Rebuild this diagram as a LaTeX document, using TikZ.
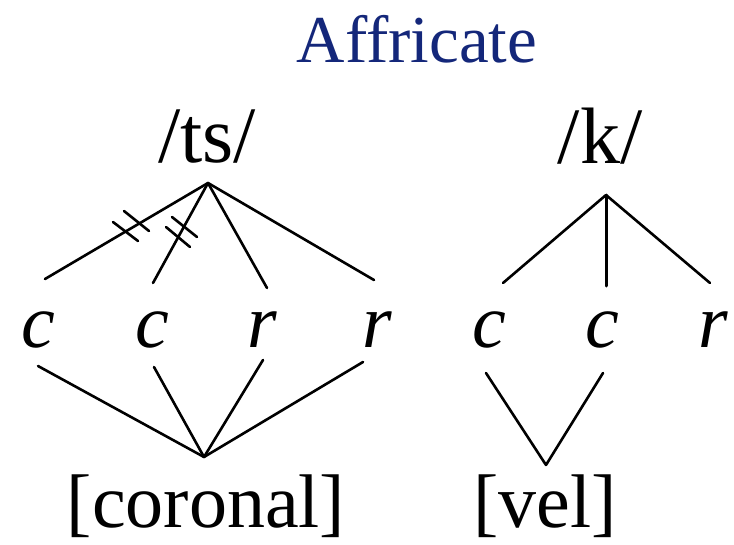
\documentclass[tikz,border=0pt]{standalone}
\usepackage{fontspec}
\setmainfont{Liberation Serif}
\definecolor{titleblue}{HTML}{14277A}
\begin{document}
\begin{tikzpicture}[x=1pt,y=-1pt,
  lbl/.style={inner sep=0pt,anchor=base,font=\fontsize{80}{80}\selectfont},
  seg/.style={inner sep=0pt,anchor=base,font=\fontsize{76}{76}\selectfont\itshape},
  feat/.style={inner sep=0pt,anchor=base,font=\fontsize{76}{76}\selectfont},
  ttl/.style={inner sep=0pt,anchor=base,text=titleblue,font=\fontsize{67}{67}\selectfont},
  ln/.style={line width=2.6pt,line cap=round}]
\useasboundingbox (0,0) rectangle (734,544);
\fill[white] (0,0) rectangle (734,544);
% texts
\node[ttl] (title) at (417,62) {Affricate};
\node[lbl] (ts) at (207,162) {/ts/};
\node[lbl] (k) at (600,163) {/k/};
\node[seg] (c1) at (38,347) {c};
\node[seg] (c2) at (152,347) {c};
\node[seg] (r1) at (262,347) {r};
\node[seg] (r2) at (377,347) {r};
\node[seg] (c3) at (489,347) {c};
\node[seg] (c4) at (602,347) {c};
\node[seg] (r3) at (713,347) {r};
\node[feat] (cor) at (206,527) {[coronal]};
\node[feat] (vel) at (545,527) {[vel]};
% line end points
\coordinate (tsA) at (208,183);
\coordinate (c1t) at (45,279);
\coordinate (c2t) at (153,283);
\coordinate (r1t) at (267,288);
\coordinate (r2t) at (374,280);
\coordinate (kA) at (606,195);
\coordinate (c3t) at (503,283);
\coordinate (c4t) at (606,286);
\coordinate (r3t) at (710,283);
\coordinate (c1b) at (38,366);
\coordinate (c2b) at (154,367);
\coordinate (r1b) at (263,360);
\coordinate (r2b) at (363,362);
\coordinate (corA) at (204,457);
\coordinate (c3b) at (486,373);
\coordinate (c4b) at (603,373);
\coordinate (velA) at (546,465);
% upper lines
\draw[ln] (tsA) -- (c1t);
\draw[ln] (tsA) -- (c2t);
\draw[ln] (tsA) -- (r1t);
\draw[ln] (tsA) -- (r2t);
\draw[ln] (kA) -- (c3t);
\draw[ln,line width=3pt] (kA) -- (c4t);
\draw[ln] (kA) -- (r3t);
% lower lines
\draw[ln] (c1b) -- (corA);
\draw[ln] (c2b) -- (corA);
\draw[ln] (r1b) -- (corA);
\draw[ln] (r2b) -- (corA);
\draw[ln] (c3b) -- (velA);
\draw[ln] (c4b) -- (velA);
% delinking ticks
\coordinate (tA1) at (113,222); \coordinate (tA2) at (138,241);
\coordinate (tB1) at (124,211); \coordinate (tB2) at (149,231);
\coordinate (tC1) at (166,227); \coordinate (tC2) at (190,247);
\coordinate (tD1) at (172,217); \coordinate (tD2) at (197,237);
\draw[ln] (tA1) -- (tA2);
\draw[ln] (tB1) -- (tB2);
\draw[ln] (tC1) -- (tC2);
\draw[ln] (tD1) -- (tD2);
\end{tikzpicture}
\end{document}
